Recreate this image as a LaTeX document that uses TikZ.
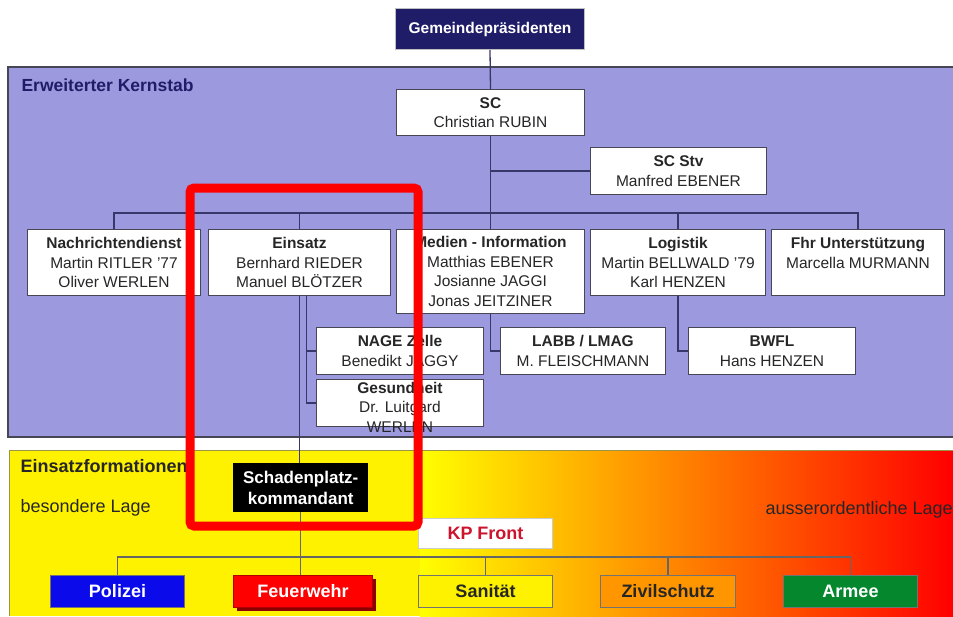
\documentclass[tikz,border=0pt]{standalone}
\usepackage{fontspec}
\setmainfont{Liberation Sans}
\usetikzlibrary{shadows}
\definecolor{kernstab}{RGB}{156,153,222}
\definecolor{gemnavy}{RGB}{32,29,104}
\definecolor{linienblau}{RGB}{55,55,105}
\definecolor{rahmen}{RGB}{70,70,85}
\definecolor{polblau}{RGB}{10,10,235}
\definecolor{armgruen}{RGB}{5,135,45}
\definecolor{zivorange}{RGB}{255,150,0}
\definecolor{kprot}{RGB}{205,20,45}
\begin{document}
\begin{tikzpicture}[x=1pt,y=-1pt,
    every node/.style={font=\fontsize{15.5}{19.5}\selectfont, text=black!85},
    person/.style={draw=rahmen, line width=1pt, fill=white, align=center, anchor=north west, inner sep=3pt},
    formation/.style={draw=black!55, line width=1pt, anchor=north west, minimum height=32, font=\fontsize{18}{21}\bfseries\selectfont},
    verbindung/.style={draw=linienblau, line width=1.3pt},
    unten/.style={draw=black!60, line width=1.2pt}]
    \useasboundingbox (0,0) rectangle (953,616);
    % Erweiterter Kernstab
    \fill[kernstab] (8,67) rectangle (953,437);
    \draw[rahmen, line width=1.2pt] (953,67) -- (8,67) -- (8,437) -- (953,437);
    \node[anchor=west, font=\fontsize{17.5}{20}\bfseries\selectfont, text=gemnavy] (kernstab) at (18,85) {Erweiterter Kernstab};
    % Einsatzformationen
    \fill[yellow] (9,450) rectangle (420,616);
    \shade[left color=yellow, middle color=zivorange, right color=red] (420,450) rectangle (953,616);
    \draw[black!45!yellow, line width=1pt] (953,450) -- (9,450) -- (9,616);
    \node[anchor=west, font=\fontsize{18}{21}\bfseries\selectfont] (formationen) at (17,466) {Einsatzformationen};
    \node[anchor=west, font=\fontsize{18}{21}\selectfont] (besondere) at (17,508) {besondere Lage};
    \node[anchor=west, font=\fontsize{18}{21}\selectfont] (ausserord) at (762,510) {ausserordentliche Lage};

    \node[draw=black!25, line width=1pt, fill=gemnavy, text=white, anchor=north west, minimum width=189, minimum height=41] (gemeinde) at (395,8) {\textbf{Gemeindepräsidenten}};
    \node[person, minimum width=188, minimum height=46] (sc) at (396,89) {\textbf{SC}\\Christian RUBIN};
    \node[person, minimum width=176, minimum height=47] (scstv) at (590,147) {\textbf{SC Stv}\\Manfred EBENER};
    \node[person, minimum width=173, minimum height=66] (nachr) at (27,229) {\textbf{Nachrichtendienst}\\Martin RITLER '77\\Oliver WERLEN};
    \node[person, minimum width=182, minimum height=66] (einsatz) at (208,229) {\textbf{Einsatz}\\Bernhard RIEDER\\Manuel BLÖTZER};
    \node[person, minimum width=188, minimum height=84] (medien) at (396,229) {\textbf{Medien - Information}\\Matthias EBENER\\Josianne JAGGI\\Jonas JEITZINER};
    \node[person, minimum width=175, minimum height=66] (logistik) at (590,229) {\textbf{Logistik}\\Martin BELLWALD '79\\Karl HENZEN};
    \node[person, minimum width=173, minimum height=66] (fhr) at (771,229) {\textbf{Fhr Unterstützung}\\Marcella MURMANN\\\mbox{}};
    \node[person, minimum width=167, minimum height=47] (nage) at (316,327) {\textbf{NAGE Zelle}\\Benedikt JAGGY};
    \node[person, minimum width=167, minimum height=47] (gesund) at (316,379) {};
    \node[anchor=north, align=center, inner sep=3pt] (gesundtext) at (gesund.north) {\textbf{Gesundheit}\\Dr. Luitgard\\WERLEN};
    \node[person, minimum width=165, minimum height=47] (labb) at (500,327) {\textbf{LABB / LMAG}\\M. FLEISCHMANN};
    \node[person, minimum width=167, minimum height=47] (bwfl) at (688,327) {\textbf{BWFL}\\Hans HENZEN};

    \node[fill=black, text=white, anchor=north west, align=center, minimum width=135, minimum height=49, font=\fontsize{17}{21}\bfseries\selectfont] (schaden) at (233,463) {Schadenplatz-\\kommandant};
    \node[draw=black!20, line width=1pt, fill=white, text=kprot, anchor=north west, minimum width=134, minimum height=30, font=\fontsize{18}{21}\bfseries\selectfont] (kpfront) at (418,518) {KP Front};
    \node[formation, fill=polblau, text=white, minimum width=134] (polizei) at (50,575) {Polizei};
    \node[formation, draw=red!70!black, fill=red, text=white, minimum width=139, drop shadow={fill=red!55!black, shadow xshift=3pt, shadow yshift=-3pt, opacity=1}] (feuerwehr) at (233,575) {Feuerwehr};
    \node[formation, fill=yellow, text=black!85, minimum width=134] (sanitaet) at (418,575) {Sanität};
    \node[formation, fill=zivorange, text=black!85, minimum width=135] (zivil) at (600,575) {Zivilschutz};
    \node[formation, fill=armgruen, text=white, minimum width=134] (armee) at (783,575) {Armee};

    % Verbindungen
    \coordinate (bus) at (490,213);
    \coordinate (fbus) at (490,557);
    \draw[verbindung] (gemeinde.south) -- (sc.north);
    \draw[verbindung] (sc.south) -- (medien.north);
    \draw[verbindung] (scstv.west) -- (scstv.west -| sc.south);
    \draw[verbindung] (nachr.north) |- (bus) -| (fhr.north);
    \draw[verbindung] (einsatz.north) -- (einsatz.north |- bus);
    \draw[verbindung] (logistik.north) -- (logistik.north |- bus);
    \draw[verbindung] ([xshift=7pt]einsatz.south) |- (gesund.west);
    \draw[verbindung] ([xshift=7pt]einsatz.south |- nage.west) -- (nage.west);
    \draw[verbindung] (medien.south) |- (labb.west);
    \draw[verbindung] (logistik.south) |- (bwfl.west);
    \draw[verbindung] (einsatz.south) -- (einsatz.south |- schaden.north);
    \draw[unten] (schaden.south) -- (schaden.south |- feuerwehr.north);
    \draw[unten] (polizei.north) |- (fbus) -| (armee.north);
    \draw[unten] (sanitaet.north) -- (sanitaet.north |- fbus);
    \draw[unten] (zivil.north) -- (zivil.north |- fbus);

    \draw[red, line width=9pt, rounded corners=4pt] (190,188) rectangle (418,526);
\end{tikzpicture}
\end{document}
